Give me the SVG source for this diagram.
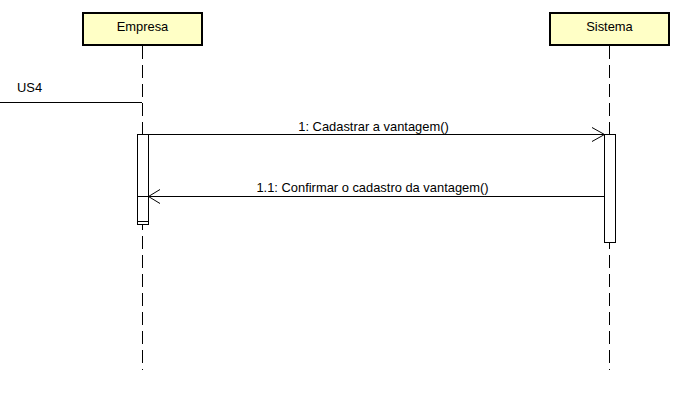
<svg xmlns="http://www.w3.org/2000/svg" width="677" height="411" viewBox="0 0 677 411">
<style>
text{font-family:"Liberation Sans",Arial,sans-serif;font-size:12.9px;fill:#000}
.hdr{fill:#FFFFC6;stroke:#000;stroke-width:2}
.life{stroke:#000;stroke-width:1;stroke-dasharray:13,6;fill:none}
.act{fill:#fff;stroke:#000;stroke-width:1}
.msg{stroke:#000;stroke-width:1;fill:none}
</style>
<rect width="677" height="411" fill="#fff"/>
<g id="empresa">
<rect class="hdr" x="83" y="13" width="119" height="32"/>
<text x="142.5" y="31" text-anchor="middle">Empresa</text>
<line class="life" x1="142.5" y1="46" x2="142.5" y2="370"/>
<rect class="act" x="137.5" y="134.5" width="11" height="90"/>
<line class="msg" x1="137.5" y1="221.5" x2="148.5" y2="221.5"/>
</g>
<g id="sistema">
<rect class="hdr" x="550" y="13" width="119" height="32"/>
<text x="609.5" y="31" text-anchor="middle">Sistema</text>
<line class="life" x1="609.5" y1="46" x2="609.5" y2="370"/>
<rect class="act" x="604.5" y="134.5" width="11" height="108"/>
</g>
<g id="connectors">
<line class="msg" x1="0" y1="102.5" x2="142" y2="102.5"/>
<text x="17" y="92">US4</text>
<line class="msg" x1="148.5" y1="134.5" x2="604.5" y2="134.5"/>
<polyline class="msg" points="592,127.5 604.5,134.5 592,141.5"/>
<text x="373.5" y="131" text-anchor="middle">1: Cadastrar a vantagem()</text>
<line class="msg" x1="604.5" y1="196.5" x2="137.5" y2="196.5"/>
<polyline class="msg" points="160,189.5 148.5,196.5 160,203.5"/>
<text x="372.5" y="192" text-anchor="middle">1.1: Confirmar o cadastro da vantagem()</text>
</g>
</svg>
